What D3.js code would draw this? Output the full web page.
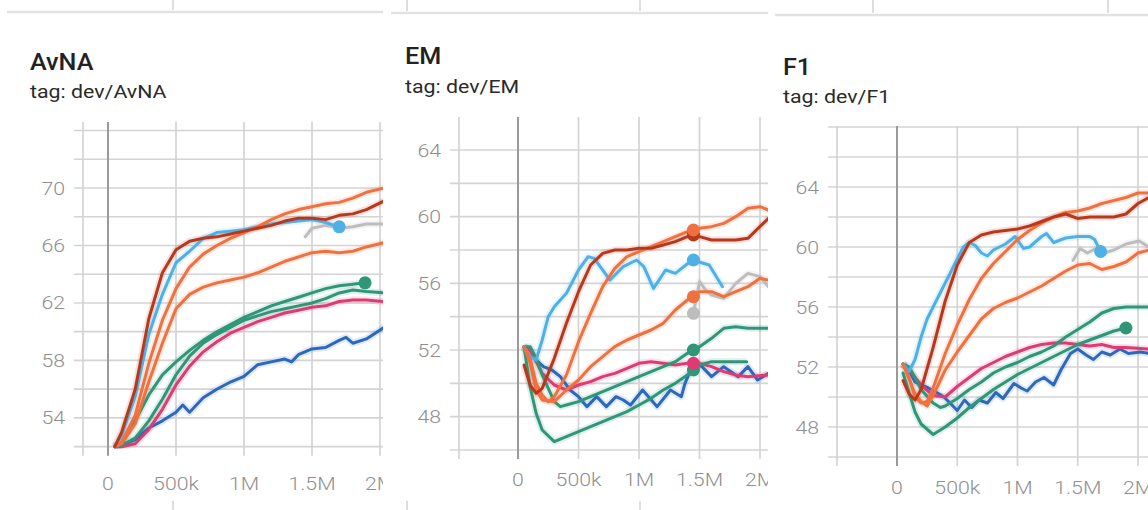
<!DOCTYPE html>
<html>
<head>
<meta charset="utf-8">
<script src="https://cdn.jsdelivr.net/npm/d3@7"></script>
<style>
  body { margin: 0; background: #fff; }
  svg { display: block; }
</style>
</head>
<body>
<script>
// steps are in units of 100k
const avnaDarkRed = [[0.5,52.0],[1,53.0],[2,56.0],[3,60.9],[4,64.1],[5,65.7],[6,66.3],[7,66.5],[8,66.6],[9,66.8],[10,67.0],[11,67.2],[12,67.4],[13,67.7],[14,67.9],[15,67.9],[16,67.8],[17,68.1],[18,68.2],[19,68.5],[20.3,69.1]];
const avnaLightBlue = [[0.5,52.0],[1,52.8],[2,55.5],[3,59.8],[4,62.6],[5,64.8],[6,65.6],[7,66.5],[8,66.9],[9,67.0],[10,67.1],[11,67.3],[12,67.5],[13,67.6],[14,67.7],[15,67.8],[16,67.6],[17,67.3]];
const avnaOrangeA = [[0.5,52.0],[1,52.3],[2,54.2],[3,57.8],[4,60.8],[5,63.0],[6,64.5],[7,65.4],[8,66.0],[9,66.5],[10,66.9],[11,67.3],[12,67.8],[13,68.2],[14,68.5],[15,68.7],[16,68.9],[17,69.0],[18,69.3],[19,69.7],[20.3,70.0]];
const avnaOrangeB = [[0.5,52.0],[1,52.2],[2,53.6],[3,56.5],[4,59.2],[5,61.6],[6,62.6],[7,63.1],[8,63.4],[9,63.6],[10,63.8],[11,64.1],[12,64.5],[13,64.9],[14,65.2],[15,65.5],[16,65.6],[17,65.5],[18,65.6],[19,65.9],[20.3,66.2]];
const avnaGray = [[14.5,66.6],[15,67.2],[16,67.4],[17,67.2],[18,67.3],[19,67.5],[20.3,67.5]];
const avnaTeal1 = [[0.5,52.0],[1,52.3],[2,53.8],[3,55.6],[4,57.0],[5,57.9],[6,58.7],[7,59.4],[8,60.0],[9,60.5],[10,61.0],[11,61.4],[12,61.8],[13,62.1],[14,62.4],[15,62.7],[16,63.0],[17,63.2],[18,63.3],[18.9,63.4]];
const avnaTeal2 = [[0.5,52.0],[1,52.1],[2,52.6],[3,53.8],[4,55.3],[5,57.0],[6,58.3],[7,59.2],[8,59.8],[9,60.3],[10,60.8],[11,61.1],[12,61.4],[13,61.6],[14,61.8],[15,62.0],[16,62.3],[17,62.7],[18,62.9],[19,62.8],[20.3,62.7]];
const avnaMagenta = [[0.5,52.0],[1,52.0],[2,52.2],[3,53.2],[4,54.6],[5,56.3],[6,57.6],[7,58.6],[8,59.3],[9,59.9],[10,60.3],[11,60.7],[12,61.0],[13,61.3],[14,61.5],[15,61.7],[16,61.8],[17,62.1],[18,62.2],[19,62.2],[20.3,62.1]];
const avnaBlue = [[0.5,52.0],[1,52.1],[2,52.5],[3,53.3],[4,53.8],[5,54.4],[5.5,54.9],[6,54.4],[7,55.4],[8,56.0],[9,56.5],[10,56.9],[11,57.7],[12,57.9],[13,58.1],[13.5,57.9],[14,58.4],[15,58.8],[16,58.9],[17,59.4],[17.5,59.6],[18,59.2],[19,59.5],[20.3,60.3]];
const avnaDots = [["lightblue",17,67.3],["teal1",18.9,63.4]];

const emDarkRed = [[0.5,51.1],[1,49.9],[1.5,49.4],[2,49.7],[3,51.5],[4,53.6],[5,55.5],[6,57.1],[7,57.8],[8,58.0],[9,58.0],[10,58.1],[11,58.1],[12,58.3],[13,58.5],[14,58.8],[15,58.8],[16,58.6],[17,58.6],[18,58.6],[19,58.7],[20.7,59.9]];
const emOrangeA = [[0.5,52.2],[1,51.5],[1.5,50.0],[2,49.3],[2.5,48.9],[3,49.2],[4,50.5],[5,52.5],[6,54.2],[7,55.8],[8,56.9],[9,57.6],[10,57.9],[11,58.2],[12,58.5],[13,58.8],[14,59.1],[15,59.3],[16,59.4],[17,59.6],[18,60.0],[19,60.5],[20,60.6],[20.7,60.4]];
const emOrangeB = [[0.5,52.2],[1,51.2],[1.5,49.6],[2,49.0],[3,48.9],[4,49.6],[5,50.2],[6,51.0],[7,51.6],[8,52.2],[9,52.6],[10,52.9],[11,53.2],[12,53.6],[13,54.4],[14,55.0],[15,55.5],[16,55.5],[17,55.2],[18,55.5],[19,55.8],[20,56.3],[20.7,56.2]];
const emLightBlue = [[0.5,52.2],[1,51.6],[1.5,51.4],[2,52.6],[2.5,54.0],[3,54.6],[4,55.4],[5,56.8],[5.8,57.6],[6.3,57.5],[7.6,56.2],[8.7,57.0],[9.8,57.4],[10.4,57.0],[11.2,55.7],[12.2,56.8],[13,56.6],[14.4,57.4],[15.8,57.1],[16.9,55.8]];
const emGray = [[14.5,54.2],[15,56.1],[15.5,55.6],[16,55.3],[17,55.1],[18,56.0],[19,56.6],[20,56.4],[20.7,55.8]];
const emTeal1 = [[0.5,52.2],[1,49.8],[1.5,48.2],[2,47.2],[3,46.5],[4,46.8],[5,47.1],[6,47.4],[7,47.7],[8,48.0],[9,48.3],[10,48.7],[11,49.1],[12,49.6],[13,50.0],[14,50.5],[14.5,50.8],[15,51.1],[16,51.3],[17,51.3],[18,51.3],[18.9,51.3]];
const emTeal2 = [[0.5,52.2],[1,52.2],[1.5,51.5],[2,50.5],[3,48.9],[3.5,48.6],[4,48.7],[5,48.9],[6,49.2],[7,49.5],[8,49.8],[9,50.1],[10,50.4],[11,50.7],[12,51.0],[13,51.3],[14,51.8],[14.5,52.0],[15,52.2],[16,52.7],[17,53.3],[18,53.4],[19,53.3],[20.7,53.3]];
const emMagenta = [[0.5,52.2],[1,52.0],[1.5,51.3],[2,50.6],[3,49.9],[4,49.6],[5,49.9],[6,50.1],[7,50.4],[8,50.6],[9,50.9],[10,51.2],[11,51.3],[12,51.2],[13,51.1],[14,51.2],[15,51.2],[16,51.0],[17,50.7],[18,50.5],[19,50.4],[20.7,50.5]];
const emBlue = [[0.5,52.2],[1,52.0],[1.5,51.4],[2.1,51.0],[2.8,50.8],[3.5,50.4],[4.3,49.6],[5,49.2],[5.7,48.6],[6.5,49.2],[7.3,48.6],[8.1,49.2],[8.7,49.0],[9.3,48.7],[10.3,49.6],[11.5,48.6],[12.6,49.6],[13.5,49.2],[13.8,50.0],[14.5,51.2],[15.2,51.0],[16,50.4],[17,51.0],[18.2,50.4],[19,51.0],[19.8,50.2],[20.7,50.6]];
const emDots = [["darkred",14.5,58.9],["orangeA",14.5,59.2],["lightblue",14.5,57.4],["orangeB",14.5,55.2],["gray",14.5,54.2],["teal2",14.5,52.0],["teal1",14.5,50.8],["magenta",14.5,51.2]];

const f1DarkRed = [[0.5,51.1],[1,50.2],[1.5,49.8],[2,50.5],[3,53.3],[4,56.4],[5,58.8],[6,60.3],[7,60.8],[8,61.0],[9,61.1],[10,61.2],[11,61.4],[12,61.7],[13,62.0],[14,62.2],[15,61.9],[16,62.0],[17,62.0],[18,62.0],[19,62.2],[20,62.9],[20.9,63.3]];
const f1OrangeA = [[0.5,52.2],[1,51.3],[1.5,50.0],[2,49.6],[2.5,49.7],[3,50.6],[4,52.9],[5,54.8],[6,56.5],[7,57.9],[8,58.9],[9,59.7],[10,60.5],[11,61.1],[12,61.6],[13,62.0],[14,62.3],[15,62.4],[16,62.6],[17,62.9],[18,63.1],[19,63.3],[20,63.6],[20.9,63.6]];
const f1OrangeB = [[0.5,52.2],[1,51.2],[1.5,50.2],[2,49.7],[2.5,49.4],[3,50.1],[4,51.8],[5,53.0],[6,54.1],[7,55.2],[8,55.9],[9,56.3],[10,56.6],[11,57.0],[12,57.4],[13,57.9],[14,58.4],[15,58.8],[16,58.9],[17,58.5],[18,58.7],[19,59.0],[20,59.6],[20.9,59.8]];
const f1LightBlue = [[0.5,52.2],[1,51.7],[1.5,52.5],[2,54.0],[2.5,55.2],[3,56.0],[4,57.6],[5,59.2],[5.5,60.0],[6,60.3],[6.5,60.1],[7,59.6],[7.5,59.4],[8,59.8],[9,60.2],[9.8,60.7],[10.5,59.9],[11,60.0],[12,60.7],[12.4,60.9],[13,60.3],[14,60.6],[15,60.7],[16,60.7],[16.4,60.5],[16.9,59.7]];
const f1Gray = [[14.6,59.1],[15.2,59.9],[15.8,59.6],[16.5,59.9],[17.2,59.6],[18,59.8],[19,60.2],[20.1,60.4],[20.9,60.0]];
const f1Teal1 = [[0.5,51.6],[1,50.3],[1.5,49.0],[2,48.2],[3,47.5],[4,48.0],[5,48.6],[6,49.3],[7,49.9],[8,50.5],[9,51.0],[10,51.5],[11,51.9],[12,52.3],[13,52.7],[14,53.1],[15,53.5],[16,53.8],[17,54.1],[18,54.4],[19,54.6]];
const f1Teal2 = [[0.5,52.2],[1,52.0],[1.5,51.3],[2,50.5],[3,49.6],[3.6,49.3],[4,49.4],[5,49.9],[6,50.5],[7,51.0],[8,51.6],[9,52.0],[10,52.3],[11,52.7],[12,53.0],[13,53.4],[14,54.0],[15,54.5],[16,55.0],[17,55.6],[18,55.9],[19,56.0],[20.9,56.0]];
const f1Magenta = [[0.5,52.2],[1,51.8],[2,50.8],[3,50.1],[4,50.0],[5,50.7],[6,51.3],[7,51.9],[8,52.3],[9,52.7],[10,53.0],[11,53.3],[12,53.5],[13,53.6],[14,53.6],[15,53.5],[16,53.4],[17,53.5],[18,53.3],[19,53.3],[20.9,53.2]];
const f1Blue = [[0.5,52.2],[1,51.8],[1.5,51.0],[2,50.8],[2.6,50.6],[3.3,50.3],[3.9,50.0],[4.4,49.6],[5,49.1],[5.6,49.8],[6.2,49.3],[6.8,49.8],[7.5,49.6],[8.2,50.3],[8.8,49.9],[9.7,50.9],[10.3,50.6],[10.8,50.4],[11.5,51.0],[12.2,51.3],[13,50.8],[13.6,51.8],[14.4,52.9],[15,53.2],[15.7,52.8],[16.3,52.5],[17,53.0],[17.7,52.8],[18.5,53.2],[19.2,52.9],[20.2,53.0],[20.9,52.9]];
const f1Dots = [["lightblue",16.9,59.7],["teal1",19,54.6]];

const xTicks = [0, 5e5, 1e6, 1.5e6, 2e6];
const xTickLabels = ["0", "500k", "1M", "1.5M", "2M"];
const avnaYTicks = [54, 58, 62, 66, 70];
const emYTicks = [48, 52, 56, 60, 64];
const f1YTicks = [48, 52, 56, 60, 64];

const runColors = {
  darkred: "#b9381b", orangeA: "#f0703f", orangeB: "#f0703f", lightblue: "#4eb0e6",
  gray: "#bdbdbd", teal1: "#2f9678", teal2: "#2f9678", magenta: "#e03a73", blue: "#2c69bc"
};
const drawOrder = ["gray", "blue", "magenta", "teal2", "teal1", "orangeB", "lightblue", "orangeA", "darkred"];

const W = 1148, H = 510;

// panel layout (pixel placement of each card)
const panels = [
  {title: "AvNA", tag: "tag: dev/AvNA", yTicks: avnaYTicks, dots: avnaDots,
   series: {darkred: avnaDarkRed, lightblue: avnaLightBlue, orangeA: avnaOrangeA, orangeB: avnaOrangeB, gray: avnaGray, teal1: avnaTeal1, teal2: avnaTeal2, magenta: avnaMagenta, blue: avnaBlue},
   x0: 0, x1: 383, textX: 30, titleY: 70, tagY: 98, ruleY: 12,
   left: 83, top: 122, bottom: 446.7, xr: [108, 380], yd: [52, 70], yr: [446.7, 188], labelY: 490, topTicks: [173], botTicks: [173]},
  {title: "EM", tag: "tag: dev/EM", yTicks: emYTicks, dots: emDots,
   series: {darkred: emDarkRed, lightblue: emLightBlue, orangeA: emOrangeA, orangeB: emOrangeB, gray: emGray, teal1: emTeal1, teal2: emTeal2, magenta: emMagenta, blue: emBlue},
   x0: 384, x1: 768, textX: 405, titleY: 64, tagY: 93, ruleY: 13,
   left: 459, top: 117, bottom: 450, xr: [518, 760], yd: [46, 64], yr: [450, 150], labelY: 486, topTicks: [407, 640], botTicks: [407, 640]},
  {title: "F1", tag: "tag: dev/F1", yTicks: f1YTicks, dots: f1Dots,
   series: {darkred: f1DarkRed, lightblue: f1LightBlue, orangeA: f1OrangeA, orangeB: f1OrangeB, gray: f1Gray, teal1: f1Teal1, teal2: f1Teal2, magenta: f1Magenta, blue: f1Blue},
   x0: 768, x1: 1148, textX: 783, titleY: 75, tagY: 103, ruleY: 15,
   left: 837, top: 126, bottom: 457, xr: [897, 1138], yd: [46, 64], yr: [457, 187], labelY: 494, topTicks: [873, 1108], botTicks: []}
];

const svg = d3.select("body").append("svg")
  .attr("width", W).attr("height", H)
  .style("font-family", "Roboto, 'Noto Sans', sans-serif");

const defs = svg.append("defs");

panels.forEach((p, i) => {
  const x = d3.scaleLinear().domain([0, 2e6]).range(p.xr);
  const y = d3.scaleLinear().domain(p.yd).range(p.yr);

  defs.append("clipPath").attr("id", "card" + i)
    .append("rect").attr("x", p.x0).attr("y", 0).attr("width", p.x1 - p.x0).attr("height", H);
  defs.append("clipPath").attr("id", "plot" + i)
    .append("rect").attr("x", p.left).attr("y", p.top).attr("width", p.x1 - p.left).attr("height", p.bottom - p.top + 2);

  const g = svg.append("g").attr("clip-path", `url(#card${i})`);

  // leftovers of the cards above/below
  g.append("line").attr("x1", p.x0 + 7).attr("x2", p.x1).attr("y1", p.ruleY).attr("y2", p.ruleY)
    .attr("stroke", "#e2e2e2").attr("stroke-width", 2.5);
  g.selectAll(".tt").data(p.topTicks).join("line")
    .attr("x1", d => d).attr("x2", d => d).attr("y1", 0).attr("y2", p.ruleY - 2)
    .attr("stroke", "#c8c8c8").attr("stroke-width", 1.2);
  g.selectAll(".bt").data(p.botTicks).join("line")
    .attr("x1", d => d).attr("x2", d => d).attr("y1", H - 9).attr("y2", H)
    .attr("stroke", "#c8c8c8").attr("stroke-width", 1.2);

  // title
  g.append("text").attr("transform", `translate(${p.textX},${p.titleY}) scale(1.05,1)`)
    .attr("font-size", 24).attr("font-weight", 500).attr("fill", "#222").text(p.title);
  g.append("text").attr("transform", `translate(${p.textX},${p.tagY}) scale(1.22,1)`)
    .attr("font-size", 17.5).attr("fill", "#2a2a2a").text(p.tag);

  // grid
  const yTop = y.invert(p.top);
  const hLines = d3.range(p.yd[0], yTop + 1e-6, 2);
  g.append("g").selectAll("line").data(hLines).join("line")
    .attr("x1", p.left - 9).attr("x2", p.x1)
    .attr("y1", d => y(d)).attr("y2", d => y(d))
    .attr("stroke", "#d4d4d4").attr("stroke-width", 1.7);
  const vLines = [x.invert(p.left)].concat(xTicks);
  g.append("g").selectAll("line").data(vLines).join("line")
    .attr("x1", d => x(d)).attr("x2", d => x(d))
    .attr("y1", p.top).attr("y2", p.bottom + 9)
    .attr("stroke", d => d === 0 ? "#9a9a9a" : "#d4d4d4")
    .attr("stroke-width", d => d === 0 ? 2 : 1.7);

  // tick labels
  g.append("g").selectAll("text").data(p.yTicks).join("text")
    .attr("transform", d => `translate(${p.left - 18},${y(d) + 6.5}) scale(1.15,1)`)
    .attr("text-anchor", "end").attr("font-size", 18.5).attr("font-weight", 300)
    .attr("fill", "#8f8f8f").text(d => d);
  g.append("g").selectAll("text").data(xTicks).join("text")
    .attr("transform", d => `translate(${x(d)},${p.labelY}) scale(1.15,1)`)
    .attr("text-anchor", "middle").attr("font-size", 18.5).attr("font-weight", 300)
    .attr("fill", "#8f8f8f").text((d, k) => xTickLabels[k]);

  // runs: pale wide copy under each smoothed line, then the line itself
  const line = d3.line().x(d => x(d[0] * 1e5)).y(d => y(d[1]));
  const lg = g.append("g").attr("clip-path", `url(#plot${i})`);
  drawOrder.forEach(run => {
    lg.append("path").datum(p.series[run]).attr("d", line)
      .attr("fill", "none").attr("stroke", runColors[run])
      .attr("stroke-opacity", 0.15).attr("stroke-width", 7)
      .attr("stroke-linejoin", "round");
  });
  drawOrder.forEach(run => {
    lg.append("path").datum(p.series[run]).attr("d", line)
      .attr("fill", "none").attr("stroke", runColors[run])
      .attr("stroke-width", 3).attr("stroke-linejoin", "round").attr("stroke-linecap", "round");
  });
  lg.selectAll("circle").data(p.dots).join("circle")
    .attr("cx", d => x(d[1] * 1e5)).attr("cy", d => y(d[2])).attr("r", 6.5)
    .attr("fill", d => runColors[d[0]]);
});
</script>
</body>
</html>
